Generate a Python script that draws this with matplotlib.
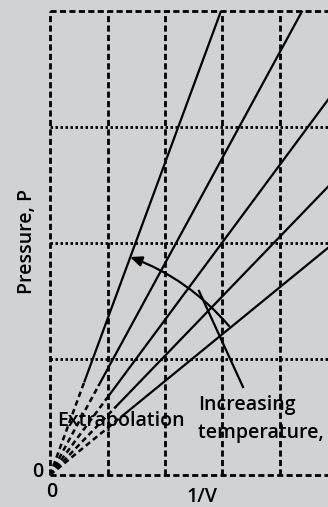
import matplotlib.pyplot as plt

# slopes of the isotherms (P per unit 1/V), lowest temperature first
slopes = [1.345, 0.912, 0.669, 0.514, 0.405]
# where the measured (solid) part of each line starts
solid_start = [0.60, 0.85, 1.00, 1.15, 1.25]

x_grid = [1, 2, 3, 4]
y_grid = [1, 2, 3]
x_max = 5
y_max = 4

bg = '#d1d2d4'
plt.rcParams['font.family'] = ['Open Sans', 'DejaVu Sans']

fig = plt.figure(figsize=(3.28, 5.07), dpi=100, facecolor=bg)
ax = fig.add_axes([50 / 328, 32 / 507, 287.5 / 328, 464 / 507])
ax.set_facecolor(bg)
ax.set_xlim(0, x_max)
ax.set_ylim(0, y_max)
for s in ax.spines.values():
    s.set_visible(False)
ax.set_xticks([])
ax.set_yticks([])

# grid: vertical dashed, horizontal dotted, frame dashed
dash = (0, (2.2, 1.2))
dot = (0, (0.9, 0.9))
for x in [0] + x_grid + [x_max]:
    ax.axvline(x, color='black', lw=2.0, ls=dash, clip_on=False)
for y in y_grid:
    ax.axhline(y, color='black', lw=2.0, ls=dot, clip_on=False)
for y in [0, y_max]:
    ax.axhline(y, color='black', lw=2.0, ls=dash, clip_on=False)

# isotherms: dashed extrapolation to origin, solid measured part
for m, x0 in zip(slopes, solid_start):
    ax.plot([0, x0], [0, m * x0], color='black', lw=1.8, ls=(0, (2.2, 1.5)))
    ax.plot([x0, x_max], [m * x0, m * x_max], color='black', lw=1.6)

# curved arrow showing increasing temperature
ax.annotate('', xy=((130 - 50) / 57.5, (475 - 257) / 116),
            xytext=((229 - 50) / 57.5, (475 - 326) / 116),
            arrowprops=dict(arrowstyle='-|>,head_length=0.7,head_width=0.3',
                            connectionstyle='arc3,rad=0.13', color='black',
                            lw=1.6, shrinkA=0, shrinkB=0))
# pointer from label to arrow
ax.plot([(199 - 50) / 57.5, (243 - 50) / 57.5],
        [(475 - 291) / 116, (475 - 387) / 116], color='black', lw=1.6)

fw = 'semibold'
fs = 14
ax.text(0.12, 0.466, 'Extrapolation', fontsize=fs, weight=fw,
        va='center', ha='left')
ax.text(2.57, 0.60, 'Increasing', fontsize=fs, weight=fw,
        va='center', ha='left')
ax.text(2.57, 0.36, 'temperature, T', fontsize=fs, weight=fw,
        va='center', ha='left', clip_on=False)

ax.text(-0.21, 0.026, '0', fontsize=fs, weight=fw, va='center', ha='center')
ax.text(0.03, -0.147, '0', fontsize=fs, weight=fw, va='center', ha='center')
ax.text(2.64, -0.19, '1/V', fontsize=fs, weight=fw, va='center', ha='center')
ax.text(-0.40, 2.01, 'Pressure, P', fontsize=fs, weight=fw,
        va='center', ha='center', rotation=90)

fig.savefig('out.png', dpi=100, facecolor=bg)
